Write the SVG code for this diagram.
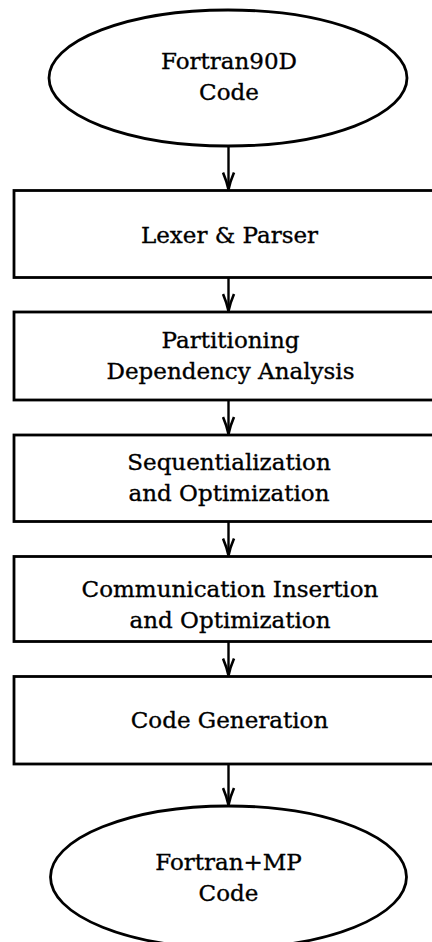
<svg xmlns="http://www.w3.org/2000/svg" width="432" height="942" viewBox="0 0 432 942">
<defs>
<marker id="ah" markerWidth="20" markerHeight="14" refX="0" refY="0" viewBox="-19 -7 20 14" orient="auto" markerUnits="userSpaceOnUse">
<path d="M-17,-5.5 C-10,-2.5 -3,-0.6 0,0 C-3,0.6 -10,2.5 -17,5.5" fill="none" stroke="#000" stroke-width="2.6"/>
</marker>
</defs>
<style>
.n{fill:#fff;stroke:#000;stroke-width:2.8}
.t{font-family:"DejaVu Serif","Liberation Serif",serif;font-size:23px;fill:#000;stroke:#000;stroke-width:0.35;text-anchor:middle}
.c{stroke:#000;stroke-width:2.4;fill:none;marker-end:url(#ah)}
</style>
<rect width="432" height="942" fill="#fff"/>
<g id="connectors">
<line class="c" x1="228.5" y1="146" x2="228.5" y2="189.5"/>
<line class="c" x1="228.5" y1="278" x2="228.5" y2="311"/>
<line class="c" x1="228.5" y1="401" x2="228.5" y2="434"/>
<line class="c" x1="228.5" y1="522" x2="228.5" y2="555.5"/>
<line class="c" x1="228.5" y1="642" x2="228.5" y2="675.5"/>
<line class="c" x1="228.5" y1="765" x2="228.5" y2="805"/>
</g>
<g id="n_input">
<ellipse class="n" cx="228" cy="78" rx="179" ry="68"/>
<text class="t" x="229" y="69">Fortran90D</text>
<text class="t" x="229" y="100">Code</text>
</g>
<g id="n_lexer">
<rect class="n" x="14" y="190.5" width="430" height="87"/>
<text class="t" x="229.5" y="243">Lexer &amp; Parser</text>
</g>
<g id="n_partition">
<rect class="n" x="14" y="312" width="430" height="88"/>
<text class="t" x="230.5" y="348">Partitioning</text>
<text class="t" x="230.5" y="379">Dependency Analysis</text>
</g>
<g id="n_seq">
<rect class="n" x="14" y="435" width="430" height="86.5"/>
<text class="t" x="229" y="470">Sequentialization</text>
<text class="t" x="229" y="501">and Optimization</text>
</g>
<g id="n_comm">
<rect class="n" x="14" y="556.5" width="430" height="85"/>
<text class="t" x="230" y="597">Communication Insertion</text>
<text class="t" x="230" y="628">and Optimization</text>
</g>
<g id="n_codegen">
<rect class="n" x="14" y="676.5" width="430" height="87.5"/>
<text class="t" x="229.5" y="728">Code Generation</text>
</g>
<g id="n_output">
<ellipse class="n" cx="228.5" cy="877" rx="178" ry="71"/>
<text class="t" x="228.5" y="870">Fortran+MP</text>
<text class="t" x="228.5" y="901">Code</text>
</g>
</svg>
